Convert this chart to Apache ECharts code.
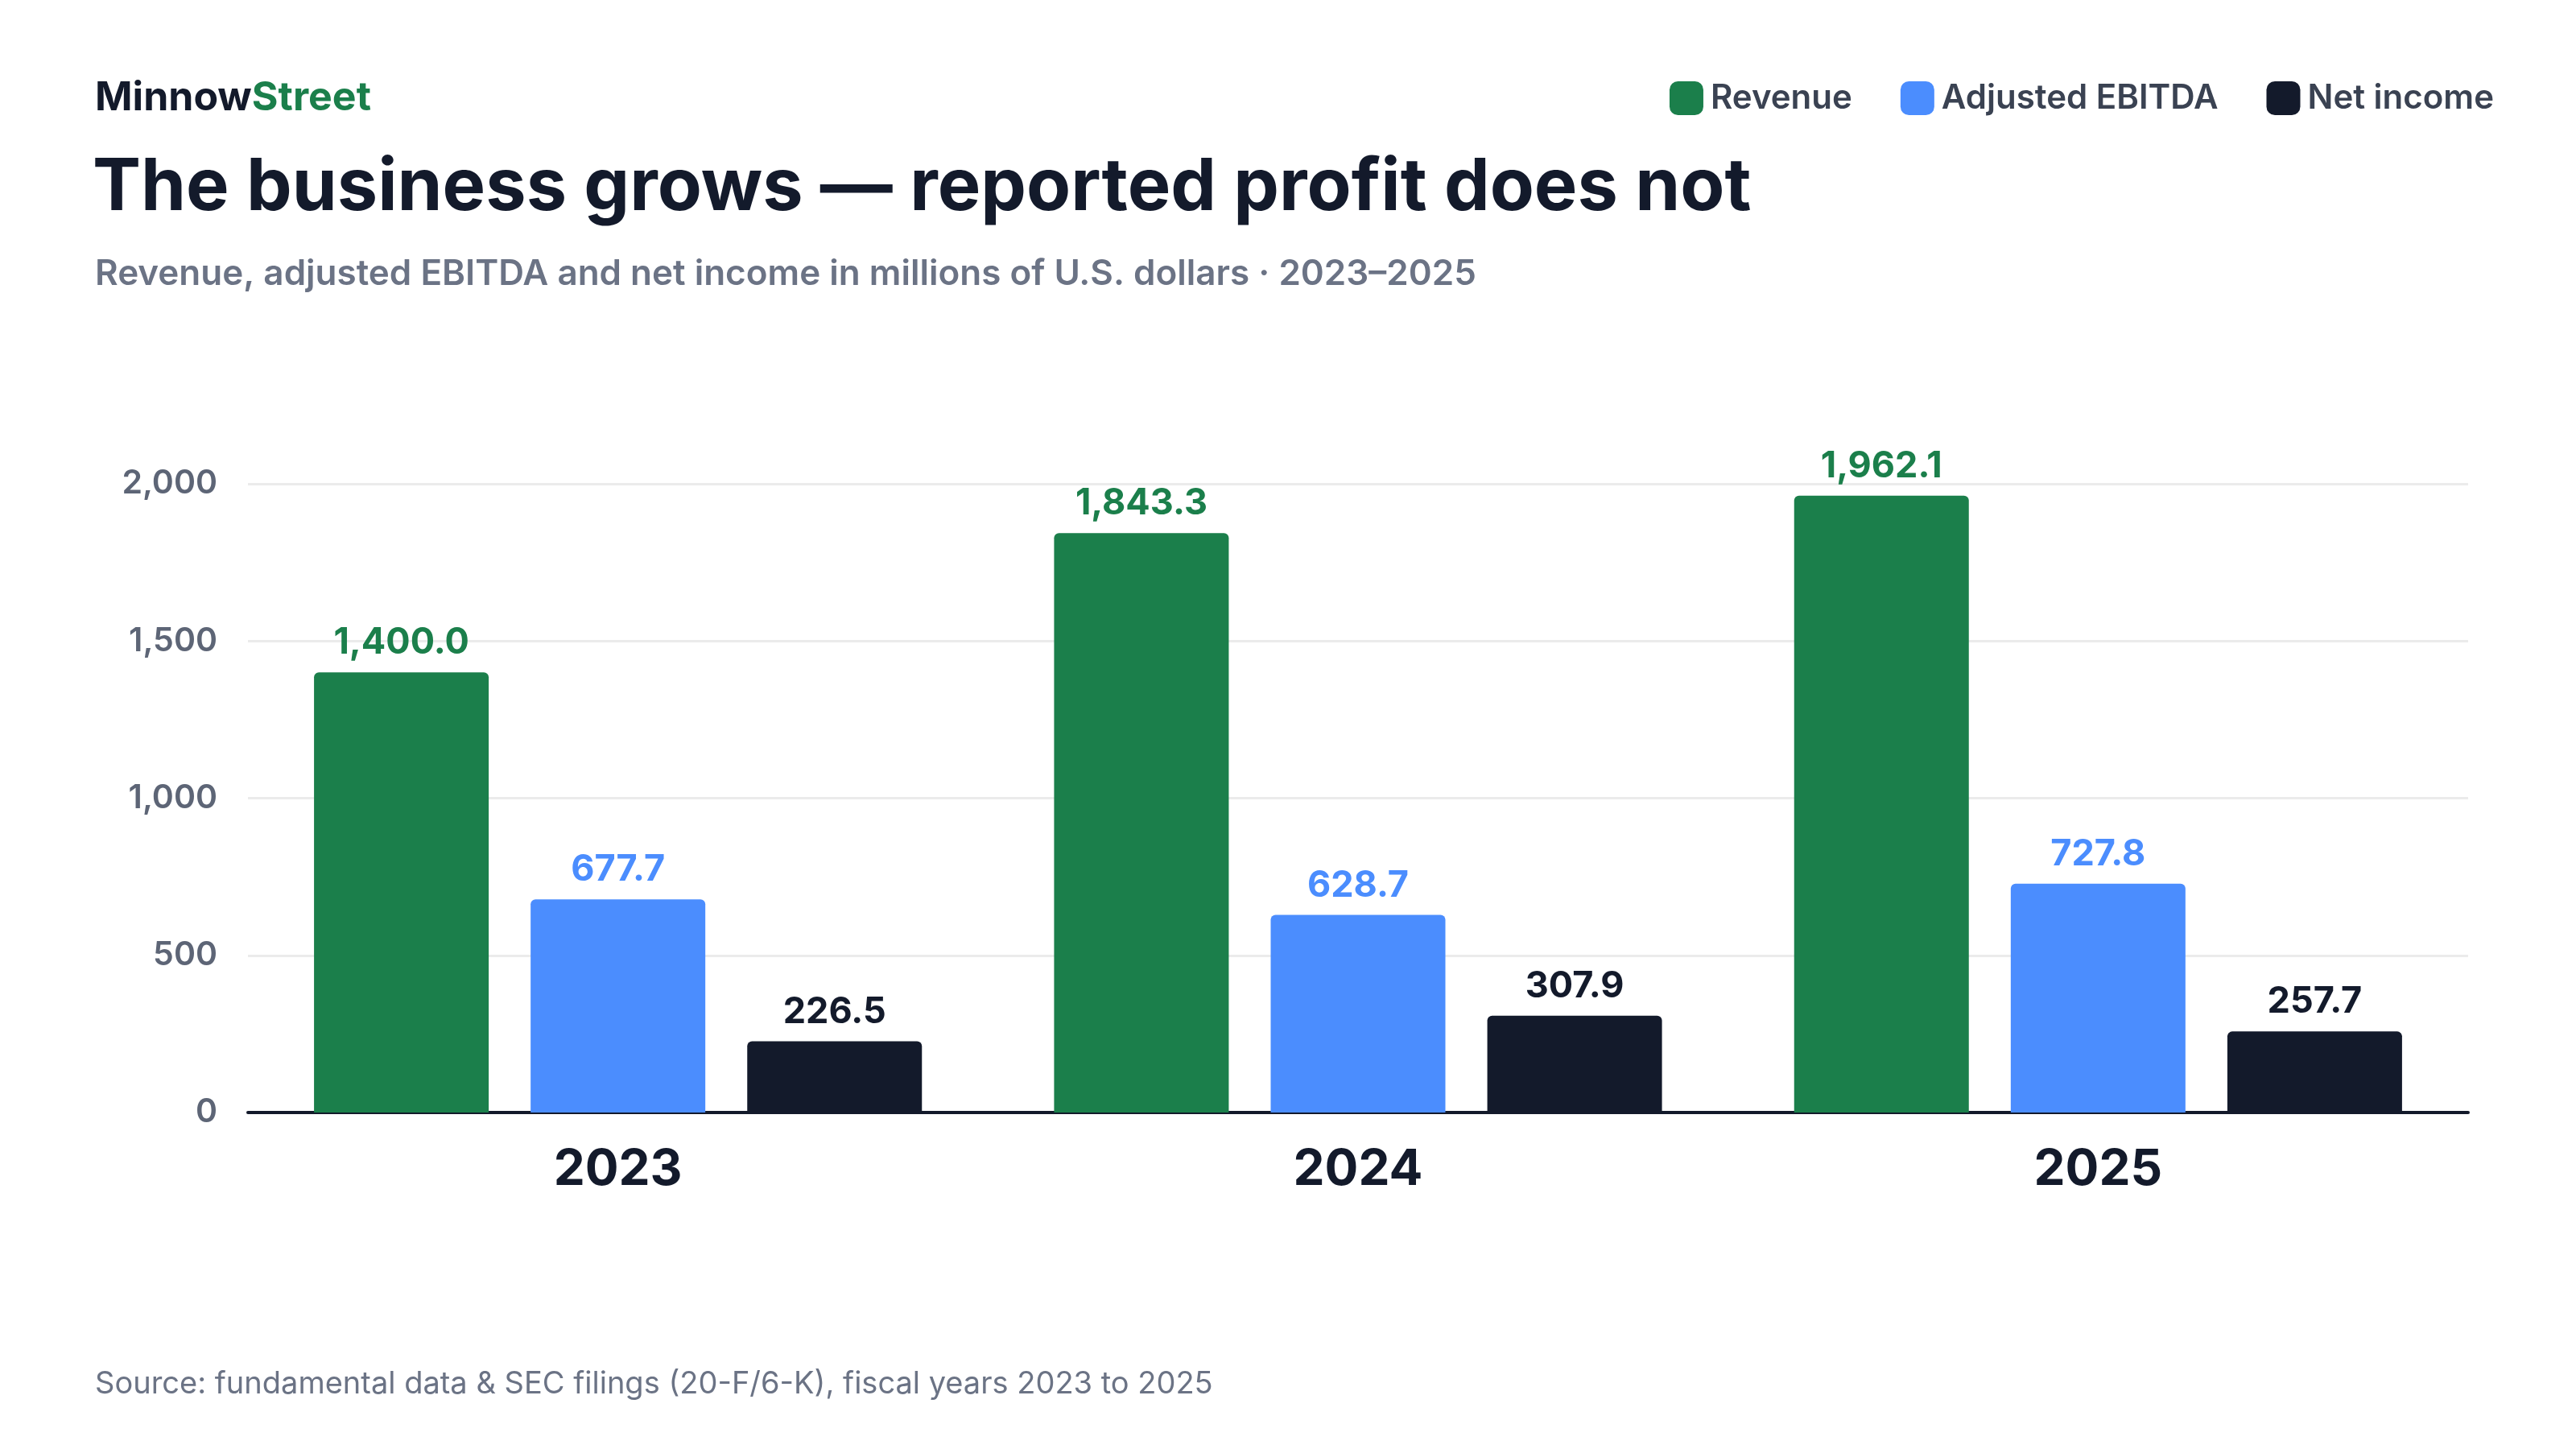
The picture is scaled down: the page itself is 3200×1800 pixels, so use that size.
<!DOCTYPE html>
<html style="height:100%;width:100%">
<head><meta charset="utf-8"></head>
<body style="height:100%;width:100%;margin:0;background:#fff">
<div id="chart-panel" style="height:100%;width:100%"></div>
<script src="https://cdn.jsdelivr.net/npm/echarts@6/dist/echarts.min.js"></script>
<script>
var years = ['2023', '2024', '2025'];
var revenue = [1400.0, 1843.3, 1962.1];
var ebitda = [677.7, 628.7, 727.8];
var netIncome = [226.5, 307.9, 257.7];
var yTicks = [0, 500, 1000, 1500, 2000];

var FONT = 'Inter, "Noto Sans", sans-serif';
var GREEN = '#1b7f4b', BLUE = '#4b8dfe', DARK = '#131a2b';

var chart = echarts.init(document.getElementById('chart-panel'));

function barSeries(name, data, color) {
  return {
    name: name, type: 'bar', data: data,
    barWidth: 217, barGap: '24%',
    itemStyle: { color: color, borderRadius: [6, 6, 0, 0] },
    label: {
      show: true, position: 'top', distance: 14,
      color: color, fontFamily: FONT, fontWeight: 'bold', fontSize: 45,
      formatter: function (p) {
        return p.value.toLocaleString('en-US', { minimumFractionDigits: 1, maximumFractionDigits: 1 });
      }
    }
  };
}

chart.setOption({
  backgroundColor: '#fff',
  title: [
    { text: '{a|Minnow}{b|Street}', left: 113, top: 92,
      textStyle: { rich: {
        a: { fontFamily: FONT, fontWeight: 'bold', fontSize: 50, color: DARK },
        b: { fontFamily: FONT, fontWeight: 'bold', fontSize: 50, color: GREEN } } } },
    { text: 'The business grows — reported profit does not', left: 110, top: 184,
      textStyle: { fontFamily: FONT, fontWeight: 'bold', fontSize: 90, color: DARK } },
    { text: 'Revenue, adjusted EBITDA and net income in millions of U.S. dollars · 2023–2025', left: 113, top: 314,
      textStyle: { fontFamily: FONT, fontWeight: 600, fontSize: 44, color: '#6b7385' } },
    { text: 'Source: fundamental data & SEC filings (20-F/6-K), fiscal years 2023 to 2025', left: 113, top: 1696,
      textStyle: { fontFamily: FONT, fontWeight: 'normal', fontSize: 38, color: '#6b7385' } }
  ],
  legend: {
    right: 97, top: 96, itemWidth: 42, itemHeight: 42, itemGap: 60,
    icon: 'roundRect',
    textStyle: { fontFamily: FONT, fontWeight: 600, fontSize: 42, color: '#3a4252', padding: [0, 0, 0, 4] },
    data: ['Revenue', 'Adjusted EBITDA', 'Net income']
  },
  grid: { left: 308, right: 134, top: 601, bottom: 418, containLabel: false },
  xAxis: {
    type: 'category', data: years,
    axisLine: { lineStyle: { color: DARK, width: 4 } },
    axisTick: { show: false },
    axisLabel: { margin: 40, fontFamily: FONT, fontWeight: 'bold', fontSize: 62, color: DARK }
  },
  yAxis: {
    type: 'value', min: 0, max: 2000, interval: 500,
    axisLine: { show: false }, axisTick: { show: false },
    splitLine: { lineStyle: { color: '#ebebeb', width: 3 } },
    axisLabel: { margin: 38, fontFamily: FONT, fontWeight: 600, fontSize: 41, color: '#5d6576',
      formatter: function (v) { return yTicks.indexOf(v) >= 0 ? v.toLocaleString('en-US') : ''; } }
  },
  series: [
    barSeries('Revenue', revenue, GREEN),
    barSeries('Adjusted EBITDA', ebitda, BLUE),
    barSeries('Net income', netIncome, DARK)
  ]
});
</script>
</body>
</html>
